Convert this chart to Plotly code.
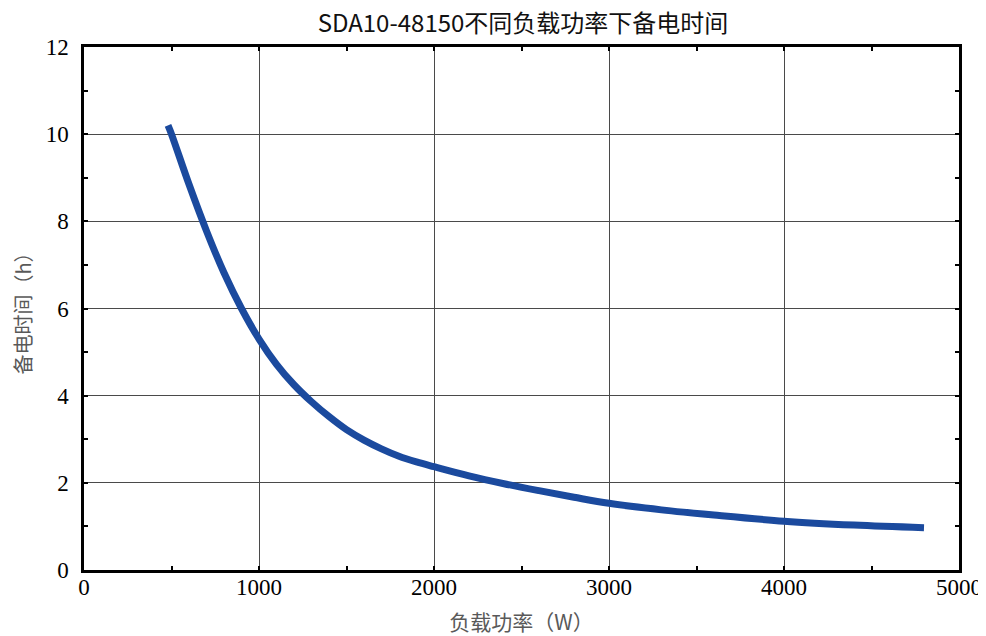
import plotly.graph_objects as go

# Data
load_w = [480, 500, 600, 700, 800, 900, 1000, 1100, 1200, 1300, 1400, 1500, 1600,
          1700, 1800, 1900, 2000, 2200, 2400, 2600, 2800, 3000, 3300, 3600, 4000,
          4400, 4800]
backup_h = [10.2, 10.0, 8.85, 7.78, 6.82, 6.0, 5.3, 4.72, 4.25, 3.86, 3.52, 3.22,
            2.98, 2.78, 2.61, 2.48, 2.37, 2.16, 1.98, 1.82, 1.67, 1.53, 1.38, 1.26,
            1.12, 1.03, 0.97]

title_text = "SDA10-48150不同负载功率下备电时间"
x_title = "负载功率（W）"
y_title = "备电时间（h）"
x_ticks = [0, 1000, 2000, 3000, 4000, 5000]
y_ticks = [0, 2, 4, 6, 8, 10, 12]

fig = go.Figure()
fig.add_trace(go.Scatter(
    x=load_w, y=backup_h, mode="lines",
    line=dict(color="#1B4A9E", width=7, shape="spline", smoothing=1.0),
    showlegend=False, hoverinfo="x+y",
))

axis_common = dict(
    showline=True, linecolor="black", linewidth=2.5, mirror="ticks",
    showgrid=True, gridcolor="#4a4a4a", gridwidth=1.3,
    zeroline=False, automargin=False,
    ticks="inside", ticklen=4, tickcolor="black", tickwidth=1.5,
    tickfont=dict(family="Liberation Serif, Times New Roman, serif", size=23, color="black"),
)

fig.update_xaxes(
    range=[0, 5000], tickvals=x_ticks,
    minor=dict(ticks="inside", ticklen=4, tickcolor="black", tickwidth=1.5,
               tickvals=[500, 1500, 2500, 3500, 4500], showgrid=False),
    ticklabelstandoff=-5,
    title=dict(text=x_title, font=dict(family="Noto Sans CJK SC, sans-serif", size=21, color="#595959"),
               standoff=20),
    **axis_common,
)
fig.update_yaxes(
    range=[0, 12], tickvals=y_ticks,
    minor=dict(ticks="inside", ticklen=4, tickcolor="black", tickwidth=1.5,
               tickvals=[1, 3, 5, 7, 9, 11], showgrid=False),
    ticklabelstandoff=8,
    title=dict(text=y_title, font=dict(family="Noto Sans CJK SC, sans-serif", size=20, color="#595959"),
               standoff=24),
    **axis_common,
)

fig.update_layout(
    width=978, height=628,
    margin=dict(l=76, r=27, t=39, b=66),
    paper_bgcolor="white", plot_bgcolor="white",
    title=dict(text=title_text, x=0.5266, xanchor="center", y=0.975, yanchor="middle",
               font=dict(family="Noto Sans CJK SC, sans-serif", size=24, color="#111111")),
)

fig.write_html("out.html")
